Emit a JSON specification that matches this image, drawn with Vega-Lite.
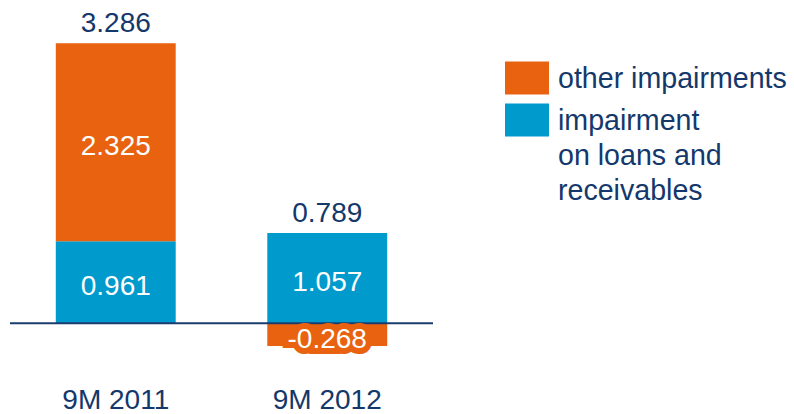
{
  "$schema": "https://vega.github.io/schema/vega-lite/v6.json",
  "width": 423,
  "height": 370,
  "padding": {"left": 10, "top": 0, "right": 361, "bottom": 44},
  "autosize": {"type": "none"},
  "config": {"view": {"stroke": null}, "font": "Liberation Sans"},
  "data": {"values": [
    {"period": "9M 2011", "category": "impairment on loans and receivables", "value": 0.961},
    {"period": "9M 2011", "category": "other impairments", "value": 2.325},
    {"period": "9M 2012", "category": "impairment on loans and receivables", "value": 1.057},
    {"period": "9M 2012", "category": "other impairments", "value": -0.268}
  ]},
  "transform": [
    {"stack": "value", "groupby": ["period"], "sort": [{"field": "category", "order": "ascending"}], "as": ["y0", "y1"], "offset": "zero"}
  ],
  "layer": [
    {
      "mark": {"type": "bar"},
      "encoding": {
        "x": {"field": "period", "type": "nominal", "scale": {"paddingInner": 0.433, "paddingOuter": 0.2165},
          "axis": {"title": null, "domain": false, "ticks": false, "tickSize": 0, "labelAngle": 0, "labelFontSize": 28, "labelColor": "#14386B", "labelFont": "Liberation Sans", "labelPadding": 16, "labelBaseline": "top"}},
        "y": {"field": "y0", "type": "quantitative", "scale": {"domain": [-0.55, 3.793], "nice": false, "zero": false}, "axis": null},
        "y2": {"field": "y1"},
        "color": {"field": "category", "type": "nominal",
          "scale": {"domain": ["other impairments", "impairment on loans and receivables"], "range": ["#E8620F", "#009ACD"]},
          "legend": {"orient": "none", "legendX": 495, "legendY": 56, "title": null, "padding": 0,
            "symbolType": "M-1,-0.75H1V0.75H-1Z", "symbolSize": 1936, "symbolStrokeWidth": 0, "symbolOpacity": 1,
            "labelFontSize": 28.6, "labelColor": "#14386B", "labelFont": "Liberation Sans", "labelBaseline": "alphabetic",
            "labelOffset": 9, "labelLimit": 0, "rowPadding": 3,
            "labelExpr": "datum.label == 'other impairments' ? datum.label : ['impairment', 'on loans and', 'receivables']",
            "encoding": {"labels": {"dy": {"value": 10}, "lineHeight": {"value": 35}}}}}
      }
    },
    {
      "data": {"values": [{"base": 0}]},
      "mark": {"type": "rule", "color": "#1B3C6E", "strokeWidth": 2},
      "encoding": {"y": {"field": "base", "type": "quantitative"}}
    },
    {
      "transform": [{"filter": "datum.value < 0"}, {"calculate": "(datum.y0 + datum.y1) / 2", "as": "mid"}],
      "mark": {"type": "text", "fontSize": 28, "color": "#E8620F", "stroke": "#E8620F", "strokeWidth": 12, "strokeJoin": "miter", "baseline": "alphabetic", "dy": 13},
      "encoding": {
        "x": {"field": "period", "type": "nominal"},
        "y": {"field": "mid", "type": "quantitative"},
        "text": {"field": "value", "type": "nominal"}
      }
    },
    {
      "transform": [{"calculate": "(datum.y0 + datum.y1) / 2", "as": "mid"}],
      "mark": {"type": "text", "fontSize": 28, "color": "white", "baseline": "alphabetic", "dy": 13},
      "encoding": {
        "x": {"field": "period", "type": "nominal"},
        "y": {"field": "mid", "type": "quantitative"},
        "text": {"field": "value", "type": "nominal"}
      }
    },
    {
      "transform": [
        {"calculate": "max(datum.value, 0)", "as": "pos"},
        {"aggregate": [{"op": "sum", "field": "value", "as": "total"}, {"op": "sum", "field": "pos", "as": "top"}], "groupby": ["period"]},
        {"calculate": "format(datum.total, '.3f')", "as": "label"}
      ],
      "mark": {"type": "text", "fontSize": 28, "color": "#14386B", "baseline": "alphabetic", "dy": -11},
      "encoding": {
        "x": {"field": "period", "type": "nominal"},
        "y": {"field": "top", "type": "quantitative"},
        "text": {"field": "label", "type": "nominal"}
      }
    }
  ]
}
